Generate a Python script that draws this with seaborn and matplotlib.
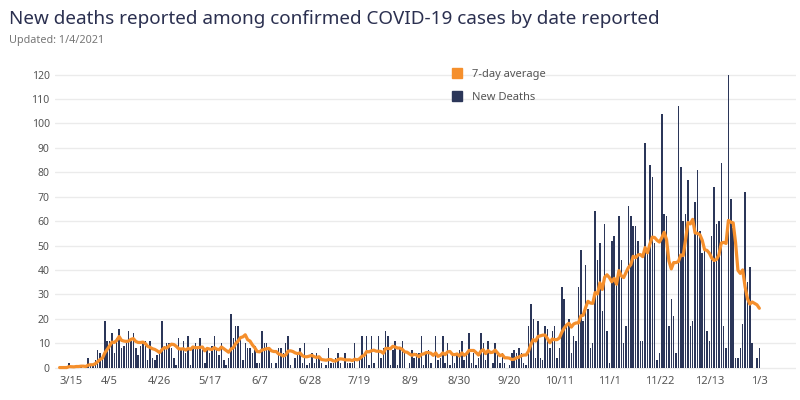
import numpy as np
import pandas as pd
import seaborn as sns
import matplotlib.pyplot as plt
from matplotlib.lines import Line2D

# new deaths per day, 3/15/2020 - 1/3/2021 (one list per month)
mar = [0, 0, 0, 0, 2, 0, 0, 1, 0, 1, 0, 1, 4, 1, 1, 3, 7]
apr = [6, 5, 19, 11, 11, 14, 6, 12, 16, 8, 9, 10, 15, 11, 14, 8, 5, 9, 11, 11,
       3, 11, 4, 3, 5, 6, 19, 9, 10, 10]
may = [8, 4, 1, 12, 8, 11, 6, 13, 1, 8, 10, 8, 12, 7, 2, 8, 6, 9, 13, 8,
       5, 10, 3, 1, 4, 22, 12, 17, 17, 13, 3]
jun = [10, 8, 8, 6, 9, 2, 2, 15, 10, 10, 7, 2, 0, 2, 8, 8, 6, 10, 13, 1,
       0, 4, 6, 8, 2, 10, 1, 2, 6, 2]
jul = [6, 4, 2, 0, 1, 8, 2, 2, 4, 6, 2, 0, 6, 2, 2, 2, 10, 0, 3, 13,
       5, 13, 1, 13, 2, 0, 13, 4, 8, 15, 13]
aug = [1, 7, 11, 1, 8, 11, 6, 0, 2, 7, 4, 6, 6, 13, 1, 6, 7, 2, 0, 13,
       3, 4, 13, 2, 10, 1, 5, 2, 6, 7, 11]
sep = [3, 6, 14, 2, 6, 1, 4, 14, 10, 3, 11, 0, 2, 10, 6, 2, 6, 2, 0, 1,
       6, 7, 6, 8, 6, 2, 1, 17, 26, 20]
oct = [4, 19, 4, 3, 17, 16, 8, 15, 17, 4, 8, 33, 28, 17, 20, 6, 13, 11, 33, 48,
       19, 42, 24, 8, 10, 64, 44, 51, 23, 59, 15]
nov = [2, 52, 54, 34, 62, 44, 10, 17, 66, 62, 58, 58, 52, 11, 11, 92, 47, 83, 78, 51,
       3, 6, 104, 63, 62, 17, 28, 21, 6, 107]
dec = [82, 60, 63, 77, 17, 19, 68, 81, 56, 47, 50, 15, 11, 54, 74, 59, 60, 84, 17, 8,
       120, 69, 57, 4, 4, 8, 18, 72, 35, 41, 10]
jan = [0, 4, 8]

deaths = mar + apr + may + jun + jul + aug + sep + oct + nov + dec + jan
dates = pd.date_range('2020-03-15', periods=len(deaths), freq='D')

navy = '#2b3659'
orange = '#f58f2c'

df = pd.DataFrame({'day': np.arange(len(deaths)), 'deaths': deaths})
df['avg'] = df['deaths'].rolling(7, min_periods=1).mean()

sns.set_theme(style='white')
plt.rcParams['font.family'] = ['Noto Sans', 'DejaVu Sans']

fig = plt.figure(figsize=(8, 4), dpi=100)
ax = fig.add_axes([0.069, 0.075, 0.926, 0.775])

sns.barplot(data=df, x='day', y='deaths', native_scale=True, color=navy,
            saturation=1, width=0.62, linewidth=0, antialiased=False, ax=ax)
sns.lineplot(data=df, x='day', y='avg', color=orange, linewidth=2.3, ax=ax)

ax.set_xlim(-1.85, 309.4)
ax.set_ylim(-1, 126)
ax.set_yticks(range(0, 121, 10))
ax.yaxis.grid(True, color='#ebebeb', linewidth=1)
ax.xaxis.grid(False)
ax.set_axisbelow(True)
sns.despine(ax=ax, left=True, bottom=True)

# date ticks every 3 weeks
tick_pos = list(range(0, len(deaths), 21))
tick_lab = [f'{dates[i].month}/{dates[i].day}' for i in tick_pos]
ax.set_xticks(tick_pos)
ax.set_xticklabels(tick_lab)
ax.get_xticklabels()[0].set_ha('left')
ax.tick_params(axis='x', length=0, labelsize=8, labelcolor='#555555', pad=4)
ax.tick_params(axis='y', length=0, labelsize=7.5, labelcolor='#555555', pad=4)
ax.set_xlabel('')
ax.set_ylabel('')

fig.text(0.011, 0.953, 'New deaths reported among confirmed COVID-19 cases by date reported',
         fontsize=13.6, color='#2b3050', va='center')
fig.text(0.011, 0.898, 'Updated: 1/4/2021', fontsize=7.8, color='#777777', va='center')

handles = [Line2D([0], [0], marker='s', ls='', color=orange, markersize=7.5),
           Line2D([0], [0], marker='s', ls='', color=navy, markersize=7.5)]
fig.legend(handles, ['7-day average', 'New Deaths'], loc='upper left',
           bbox_to_anchor=(0.557, 0.828), frameon=False, fontsize=8,
           labelcolor='#555555', labelspacing=1.1, handletextpad=0.4,
           borderaxespad=0, borderpad=0)

fig.savefig('out.png', dpi=100)
